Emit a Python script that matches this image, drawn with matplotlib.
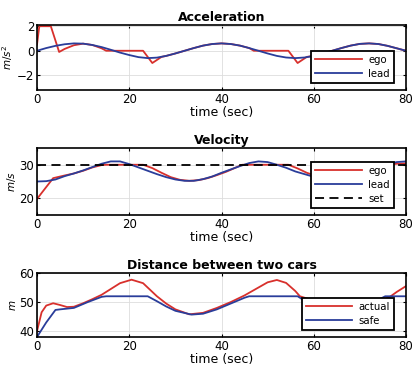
import numpy as np
import matplotlib
matplotlib.use('Agg')
import matplotlib.pyplot as plt

# ---- data ----
lead_t = [0, 2, 4, 6, 8, 10, 12, 14, 16, 18, 20, 22, 24, 26, 28, 30, 32, 34, 36, 38, 40,
          42, 44, 46, 48, 50, 52, 54, 56, 58, 60, 62, 64, 66, 68, 70, 72, 74, 76, 78, 80]
lead_acc = [0.0, 0.22, 0.40, 0.53, 0.60, 0.58, 0.47, 0.30, 0.08, -0.15, -0.35, -0.52, -0.60,
            -0.56, -0.42, -0.22, 0.0, 0.22, 0.42, 0.55, 0.60, 0.55, 0.42, 0.22, 0.0, -0.22,
            -0.42, -0.55, -0.60, -0.55, -0.42, -0.22, 0.0, 0.22, 0.42, 0.56, 0.60, 0.55, 0.40,
            0.20, 0.0]
lead_vel = [25.0, 25.1, 25.6, 26.6, 27.4, 28.3, 29.3, 30.3, 31.0, 31.0, 30.2, 29.2, 28.2,
            27.2, 26.3, 25.6, 25.2, 25.2, 25.7, 26.5, 27.6, 28.6, 29.6, 30.5, 31.0, 30.8,
            30.0, 29.1, 28.0, 27.2, 26.4, 25.6, 25.1, 25.2, 25.8, 26.8, 28.0, 29.2, 30.2,
            30.8, 31.0]

ego_acc_t = [0, 0.5, 3, 4.8, 6, 8, 10, 12, 14, 15, 23, 25, 27, 28, 30, 32, 34, 36, 38, 40,
             42, 44, 46, 47, 54.5, 56.5, 58.5, 60, 62, 64, 66, 68, 70, 72, 74, 76, 78, 80]
ego_acc = [0.5, 2.0, 2.0, -0.1, 0.15, 0.45, 0.58, 0.47, 0.2, 0.0, 0.0, -1.0, -0.5, -0.42,
           -0.22, 0.0, 0.22, 0.42, 0.55, 0.6, 0.55, 0.42, 0.22, 0.0, 0.0, -1.0, -0.5, -0.42,
           -0.22, 0.0, 0.22, 0.42, 0.56, 0.6, 0.55, 0.40, 0.2, 0.0]

ego_vel_t = [0, 3.5, 6, 8, 10, 12, 14, 15, 23, 25, 27, 29, 31, 33, 35, 37, 39, 41, 43, 44.5,
             54.5, 56.5, 58.5, 60, 62, 64, 66, 68, 70, 72, 74, 76, 78, 80]
ego_vel = [19.8, 26.0, 26.8, 27.4, 28.2, 29.2, 29.9, 30.0, 30.0, 29.0, 27.6, 26.3, 25.5,
           25.2, 25.4, 26.0, 26.9, 27.9, 29.1, 30.0, 30.0, 28.9, 27.6, 26.9, 26.0, 25.5,
           25.4, 25.9, 26.8, 28.0, 29.2, 30.0, 30.3, 30.4]
set_speed = 30

dist_t = [0, 1, 2, 3.5, 5, 6.5, 8, 10, 12, 14, 16, 18, 20.5, 23, 26, 28, 30, 33, 36, 39,
          42, 45, 48, 50, 52, 54, 56, 57, 60, 64, 68, 72, 75, 76.5, 78, 80]
dist_actual = [40.0, 46.5, 48.8, 49.6, 49.0, 48.3, 48.4, 49.6, 51.0, 52.5, 54.5, 56.5, 57.7,
               56.5, 52.0, 49.5, 47.5, 45.8, 46.3, 48.0, 50.0, 52.3, 55.0, 56.8, 57.6,
               56.6, 53.8, 52.0, 50.5, 49.0, 48.8, 49.5, 50.8, 51.8, 53.5, 55.5]
safe_t = [0, 2, 4, 5, 8, 11, 14, 15, 24, 26, 28, 30, 33.5, 36, 39, 42, 45, 46, 56.5, 59,
          62, 64, 67, 70, 73, 75.5, 80]
safe_dist = [38.0, 43.0, 47.3, 47.5, 48.0, 50.0, 51.8, 52.0, 52.0, 50.3, 48.5, 47.0, 45.7,
             46.0, 47.5, 49.5, 51.5, 52.0, 52.0, 49.5, 47.5, 46.5, 46.5, 48.0, 50.0, 52.0, 52.0]

red = '#d8302c'
blue = '#2a3d9a'

fig = plt.figure(figsize=(4.19, 3.75), dpi=100)
left, width = 37 / 419, 369 / 419
boxes = [(25, 90), (148, 215), (273, 337)]
axes = []
for top, bot in boxes:
    axes.append(fig.add_axes([left, 1 - bot / 375, width, (bot - top) / 375]))


def style(ax, title, ylabel, yticks, ylim):
    ax.set_xlim(0, 80)
    ax.set_ylim(*ylim)
    ax.set_xticks([0, 20, 40, 60, 80])
    ax.set_yticks(yticks)
    ax.grid(True, color='#dddddd', linewidth=0.6)
    ax.set_axisbelow(True)
    ax.tick_params(direction='in', length=2.5, labelsize=8.5, pad=2, top=True, right=True)
    for s in ax.spines.values():
        s.set_linewidth(1.2)
    ax.set_title(title, fontsize=9, fontweight='bold', pad=3)
    ax.set_xlabel('time (sec)', fontsize=9, labelpad=0)
    ax.set_ylabel(ylabel, fontsize=7.5, labelpad=1)


def legend(ax, anchor):
    leg = ax.legend(loc='lower right', bbox_to_anchor=anchor, fontsize=7.3, handlelength=4.6,
                    borderpad=0.4, labelspacing=0.4, handletextpad=0.6, borderaxespad=0,
                    fancybox=False, framealpha=1)
    leg.get_frame().set_edgecolor('black')
    leg.get_frame().set_linewidth(1.3)


ax = axes[0]
ax.plot(ego_acc_t, ego_acc, color=red, lw=1.3, label='ego')
ax.plot(lead_t, lead_acc, color=blue, lw=1.3, label='lead')
style(ax, 'Acceleration', '$m/s^2$', [-2, 0, 2], (-3.2, 2.1))
legend(ax, (0.967, 0.108))

ax = axes[1]
ax.plot(ego_vel_t, ego_vel, color=red, lw=1.3, label='ego')
ax.plot(lead_t, lead_vel, color=blue, lw=1.3, label='lead')
ax.axhline(set_speed, color='black', lw=1.3, ls=(0, (5, 3)), label='set')
style(ax, 'Velocity', '$m/s$', [20, 30], (15, 35))
legend(ax, (0.967, 0.104))

ax = axes[2]
ax.plot(dist_t, dist_actual, color=red, lw=1.3, label='actual')
ax.plot(safe_t, safe_dist, color=blue, lw=1.3, label='safe')
style(ax, 'Distance between two cars', '$m$', [40, 50, 60], (38, 60))
legend(ax, (0.967, 0.11))

fig.savefig('out.png', dpi=100)
